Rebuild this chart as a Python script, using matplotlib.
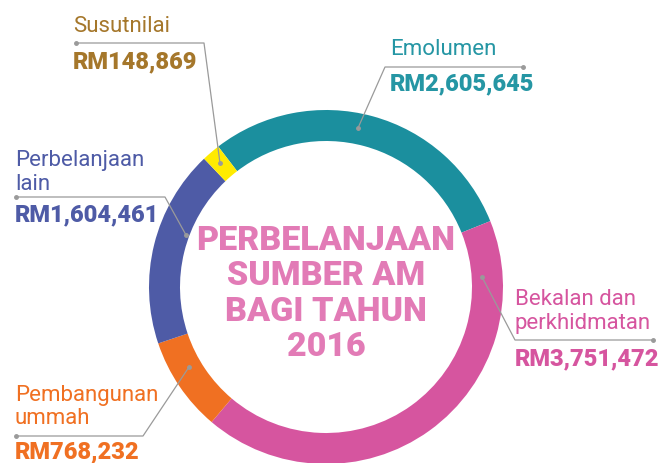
import matplotlib
matplotlib.use("Agg")
import matplotlib.pyplot as plt

categories = ["Emolumen", "Bekalan dan\nperkhidmatan", "Pembangunan\nummah", "Perbelanjaan\nlain", "Susutnilai"]
values = [2605645, 3751472, 768232, 1604461, 148869]
value_labels = ["RM2,605,645", "RM3,751,472", "RM768,232", "RM1,604,461", "RM148,869"]
ring_colors = ["#1B8F9E", "#D6559F", "#F07022", "#4E5BA6", "#FFEB00"]
text_colors = ["#2596A4", "#D6559F", "#F07022", "#4E5BA6", "#A5772B"]
center_title = "PERBELANJAAN\nSUMBER AM\nBAGI TAHUN\n2016"

W, H = 665, 463
fig = plt.figure(figsize=(W / 100, H / 100), dpi=100)
ax = fig.add_axes([0, 0, 1, 1])

def Y(y):
    return H - y

cx, cy, R = 326, 287, 177
ax.pie(values, colors=ring_colors, startangle=127.5, counterclock=False,
       center=(cx, Y(cy)), radius=R, wedgeprops=dict(width=31, linewidth=0),
       frame=True)
ax.set_xlim(0, W)
ax.set_ylim(0, H)
ax.set_aspect("equal")
ax.axis("off")

ax.text(cx, Y(294), center_title, ha="center", va="center", color="#E27BB6",
        fontsize=24.5, fontweight="heavy", family="Roboto", linespacing=1.13)

line_c = "#9a9a9a"
leaders = [
    [(358, 128), (385, 67), (523, 67)],
    [(482, 277), (515, 340), (653, 340)],
    [(189, 367), (143, 436), (16, 436)],
    [(186, 235), (165, 197), (16, 197)],
    [(220, 163), (204, 43), (76, 43)],
]
for pts in leaders:
    xs = [p[0] for p in pts]
    ys = [Y(p[1]) for p in pts]
    ax.plot(xs, ys, color=line_c, lw=0.9, solid_capstyle="round")
    ax.plot([xs[0], xs[-1]], [ys[0], ys[-1]], "o", color=line_c, ms=2.5)

# (x, first name baseline, value baseline)
label_pos = [
    (390, 55, 90),
    (515, 305, 365),
    (15, 401, 458),
    (15, 166, 221),
    (73, 32, 68),
]
for i, (x, yn, yv) in enumerate(label_pos):
    for k, line in enumerate(categories[i].split("\n")):
        ax.text(x, Y(yn + 23.5 * k), line, ha="left", va="baseline",
                color=text_colors[i], fontsize=16, fontweight="normal", family="Roboto")
    ax.text(x, Y(yv), value_labels[i], ha="left", va="baseline",
            color=text_colors[i], fontsize=17, fontweight="heavy", family="Roboto")

fig.savefig("out.png", dpi=100, facecolor="white")
